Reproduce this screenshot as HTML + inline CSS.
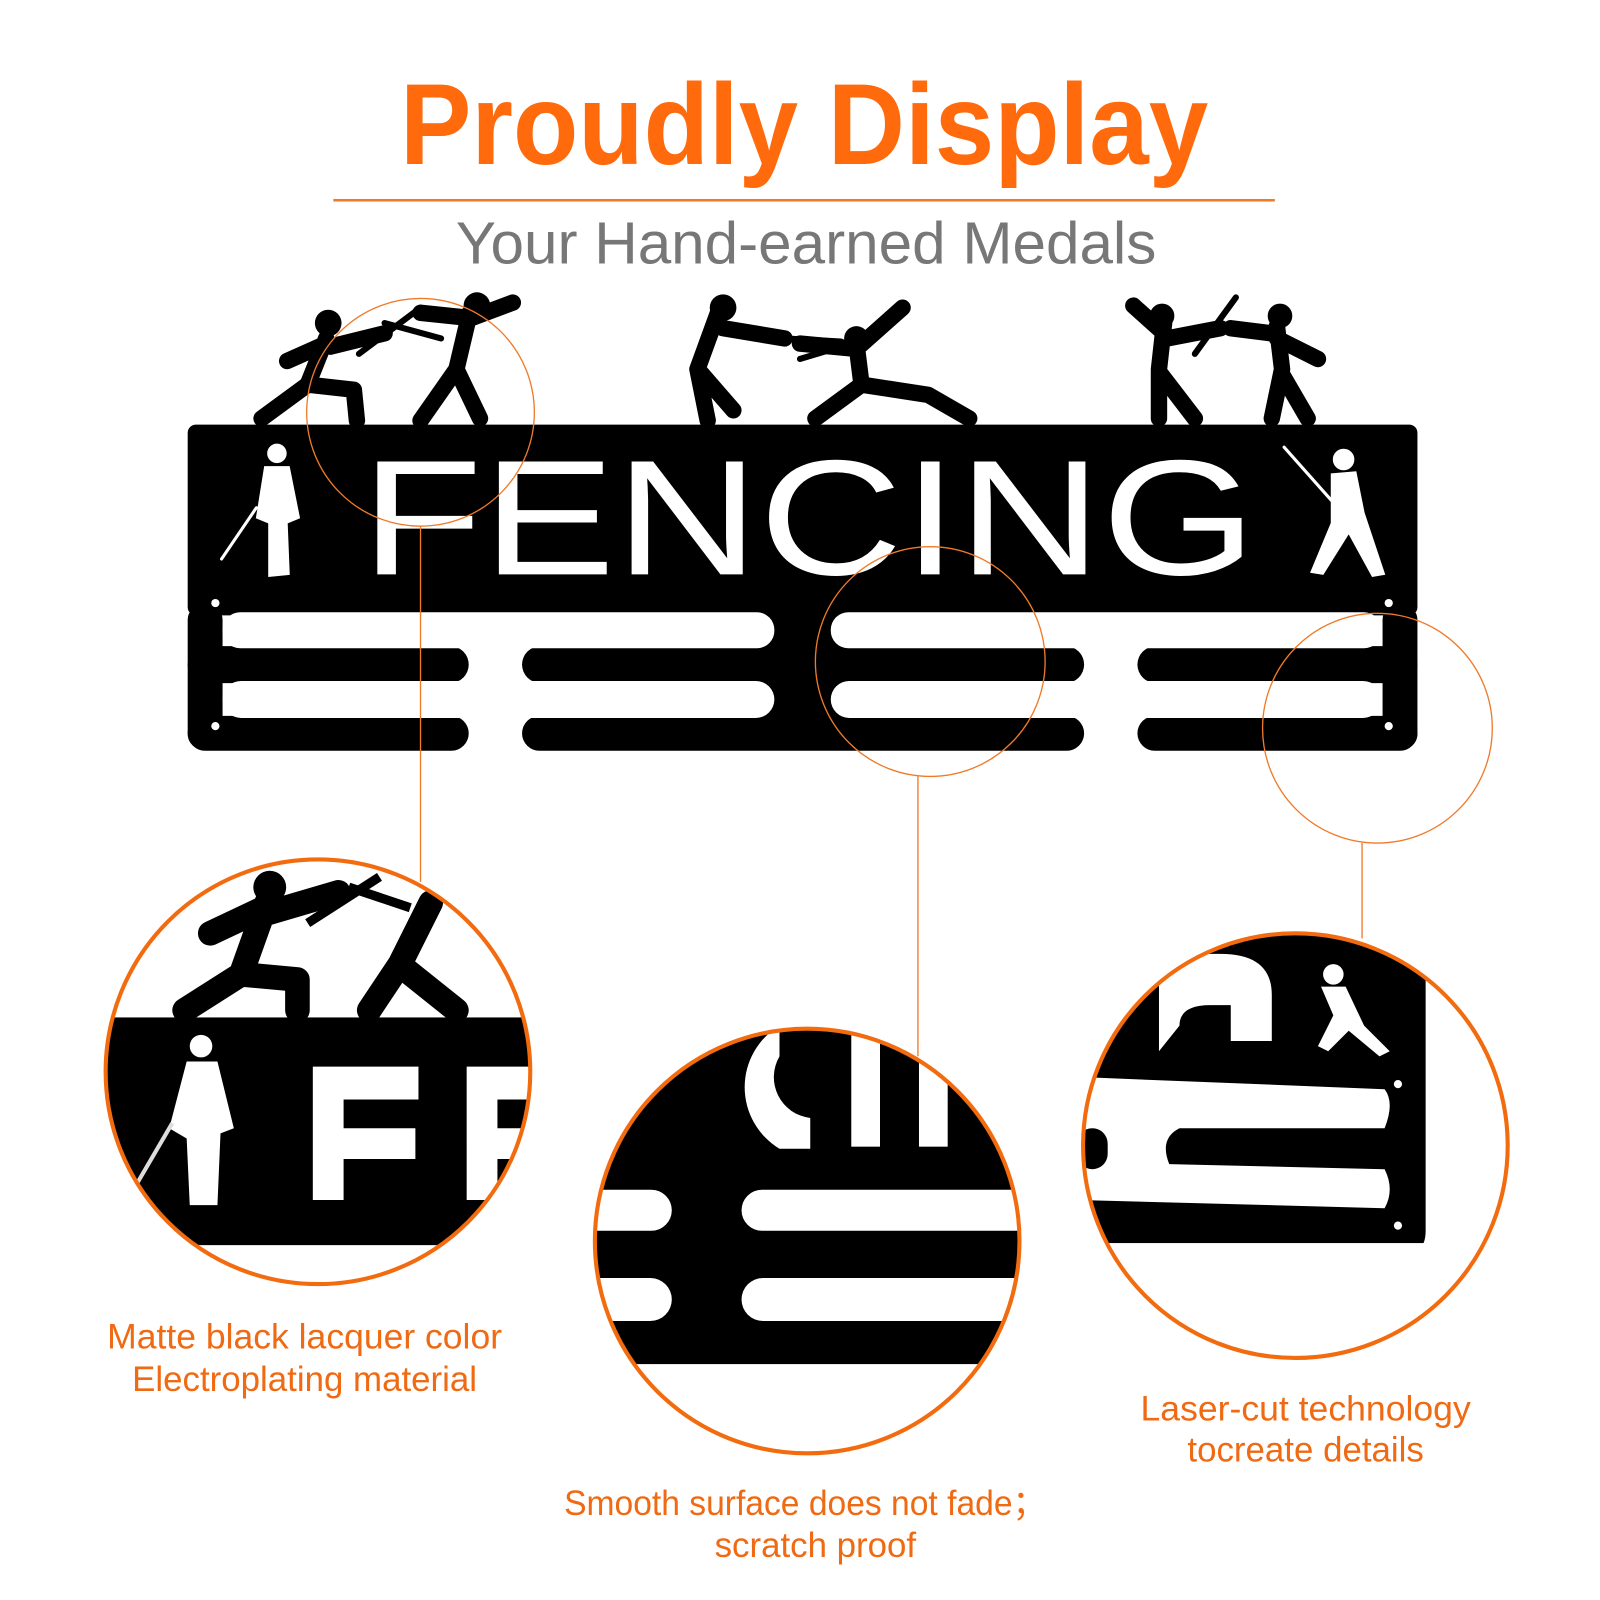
<!DOCTYPE html>
<html><head><meta charset="utf-8"><style>
html,body{margin:0;padding:0;background:#fff;width:1600px;height:1600px;overflow:hidden}
svg{display:block}
</style></head><body>
<svg width="1600" height="1600" viewBox="0 0 1560 1560" xmlns="http://www.w3.org/2000/svg">
<defs>
<clipPath id="c1"><circle cx="310" cy="1045" r="207"/></clipPath>
<clipPath id="c2"><circle cx="787" cy="1210" r="207"/></clipPath>
<clipPath id="c3"><circle cx="1263" cy="1117" r="207"/></clipPath>
</defs>
<rect width="1560" height="1560" fill="#fff"/>
<text x="784" y="160" text-anchor="middle" font-family="Liberation Sans, sans-serif" font-weight="bold" font-size="112" fill="#ff6a0d" textLength="788" lengthAdjust="spacingAndGlyphs">Proudly Display</text>
<rect x="325" y="194" width="918" height="2.5" fill="#f07a2a"/>
<text x="786" y="257" text-anchor="middle" font-family="Liberation Sans, sans-serif" font-size="58" fill="#777" textLength="683" lengthAdjust="spacingAndGlyphs">Your Hand-earned Medals</text>

<g fill="#000">
<rect x="183" y="414" width="1199" height="186" rx="8"/>
<rect x="183" y="590" width="34" height="140" rx="14"/>
<rect x="1348" y="590" width="34" height="140" rx="14"/>
<rect x="183" y="630" width="274" height="36" rx="18"/>
<rect x="509" y="630" width="548" height="36" rx="18"/>
<rect x="1109" y="630" width="273" height="36" rx="18"/>
<rect x="183" y="698" width="274" height="34" rx="17"/>
<rect x="509" y="698" width="548" height="34" rx="17"/>
<rect x="1109" y="698" width="273" height="34" rx="17"/>
<rect x="740" y="590" width="80" height="50"/>
<rect x="740" y="660" width="80" height="45"/>
</g>
<g fill="#fff">
<rect x="217" y="597" width="538" height="35" rx="17"/>
<rect x="810" y="597" width="537" height="35" rx="17"/>
<rect x="217" y="664" width="538" height="36" rx="18"/>
<rect x="810" y="664" width="537" height="36" rx="18"/>
<circle cx="210" cy="588" r="4"/><circle cx="210" cy="708" r="4"/>
<circle cx="1354" cy="588" r="4"/><circle cx="1354" cy="708" r="4"/>
</g>
<text x="352" y="560" font-family="Liberation Sans, sans-serif" font-size="160" fill="#fff" textLength="873" lengthAdjust="spacingAndGlyphs">FENCING</text>
<g fill="#fff" stroke="#fff" stroke-linecap="round">
<circle cx="270" cy="442" r="9"/>
<path d="M258 455 L282 455 L292 505 L280 510 L282 560 L262 562 L262 510 L250 505 Z"/>
<line x1="250" y1="495" x2="216" y2="545" stroke-width="3"/>
<circle cx="1310" cy="448" r="10"/>
<path d="M1298 462 L1322 460 L1330 500 L1350 560 L1338 562 L1315 520 L1290 560 L1278 558 L1298 510 Z"/>
<line x1="1300" y1="490" x2="1252" y2="436" stroke-width="3"/>
</g>
<g fill="none" stroke="#000" stroke-width="16" stroke-linecap="round" stroke-linejoin="round">
<path d="M318 330 L300 375 L255 408 M300 375 L345 380 L348 410 M318 335 L280 352 M322 338 L375 325"/>
<path d="M458 305 L445 360 L410 410 M445 360 L468 408 M458 310 L410 305 M460 310 L500 295"/>
<path d="M700 305 L680 360 L690 410 M682 362 L715 400 M705 320 L765 330"/>
<path d="M835 335 L840 375 L795 408 M840 375 L905 385 L945 408 M835 340 L880 300 M833 340 L780 335"/>
<path d="M1135 315 L1130 360 L1130 408 M1132 365 L1165 408 M1135 325 L1105 298 M1138 330 L1190 320"/>
<path d="M1245 318 L1250 360 L1240 408 M1250 365 L1275 408 M1245 330 L1285 350 M1240 325 L1200 320"/>
</g>
<g stroke="#000" stroke-width="6" stroke-linecap="round">
<line x1="350" y1="345" x2="410" y2="300"/><line x1="375" y1="315" x2="430" y2="330"/>
<line x1="765" y1="330" x2="820" y2="333"/><line x1="780" y1="350" x2="830" y2="335"/>
<line x1="1165" y1="345" x2="1205" y2="290"/>
</g>
<g fill="#000">
<circle cx="320" cy="315" r="13"/><circle cx="465" cy="298" r="13"/><circle cx="705" cy="300" r="13"/>
<circle cx="835" cy="330" r="12"/><circle cx="1133" cy="308" r="12"/><circle cx="1248" cy="308" r="12"/>
</g>

<g fill="none" stroke="#f07a2a" stroke-width="1.3">
<circle cx="410" cy="402" r="111"/>
<circle cx="907" cy="645" r="112"/>
<circle cx="1343" cy="710" r="112"/>
<line x1="410" y1="513" x2="410" y2="860"/>
<line x1="895" y1="757" x2="895" y2="1030"/>
<line x1="1328" y1="822" x2="1328" y2="915"/>
</g>

<g clip-path="url(#c1)">
<rect x="100" y="992" width="420" height="222" fill="#000"/>
<g fill="none" stroke="#000" stroke-width="24" stroke-linecap="round" stroke-linejoin="round">
<path d="M260 880 L235 950 L180 985 M235 950 L290 955 L290 985 M258 885 L205 910 M262 890 L330 870"/>
<path d="M420 880 L390 940 L360 985 M395 945 L445 985"/>
</g>
<circle cx="263" cy="865" r="16"/>
<line x1="300" y1="900" x2="370" y2="855" stroke="#000" stroke-width="9"/>
<line x1="340" y1="865" x2="400" y2="885" stroke="#000" stroke-width="9"/>
<g fill="#fff"><circle cx="196" cy="1020" r="11"/>
<path d="M182 1035 L212 1035 L228 1100 L215 1105 L212 1175 L185 1175 L182 1110 L165 1100 Z"/></g>
<line x1="168" y1="1095" x2="130" y2="1160" stroke="#ddd" stroke-width="4"/>
<path fill="#fff" d="M305 1040 H408 V1072 H335 V1100 H405 V1130 H335 V1170 H305 Z"/>
<path fill="#fff" d="M455 1040 H560 V1072 H485 V1100 H555 V1130 H485 V1170 H455 Z"/>
</g>
<circle cx="310" cy="1045" r="207" fill="none" stroke="#f26b0f" stroke-width="4"/>

<g clip-path="url(#c2)">
<rect x="570" y="1000" width="440" height="330" fill="#000"/>
<g fill="#fff">
<rect x="560" y="1160" width="95" height="40" rx="20"/>
<rect x="723" y="1160" width="300" height="40" rx="20"/>
<rect x="560" y="1246" width="95" height="42" rx="21"/>
<rect x="723" y="1246" width="300" height="42" rx="21"/>
<rect x="560" y="1332" width="460" height="100"/>
<path d="M760 1000 A70 70 0 0 0 760 1120 L790 1120 L790 1090 A40 40 0 0 1 760 1030 Z"/>
<rect x="830" y="1000" width="28" height="118"/>
<rect x="896" y="1000" width="28" height="118"/>
</g>
</g>
<circle cx="787" cy="1210" r="207" fill="none" stroke="#f26b0f" stroke-width="4"/>

<g clip-path="url(#c3)">
<path fill="#000" d="M1050 900 H1390 V1200 Q1390 1225 1365 1222 L1050 1215 Z"/>
<g fill="#fff">
<path d="M1050 1050 L1350 1062 Q1360 1075 1350 1100 L1150 1100 Q1130 1110 1140 1135 L1350 1140 Q1360 1160 1350 1178 L1050 1170 Z"/>
<rect x="1050" y="1212" width="400" height="200"/>
<path d="M1130 930 H1190 Q1240 930 1240 970 L1240 1015 H1200 V980 H1180 Q1150 980 1150 1000 L1130 1025 Z"/>
<circle cx="1300" cy="950" r="10"/>
<path d="M1288 962 L1312 962 L1330 1000 L1355 1025 L1345 1030 L1315 1005 L1295 1025 L1285 1020 L1300 990 Z"/>
<circle cx="1363" cy="1057" r="4"/><circle cx="1363" cy="1195" r="4"/>
</g>
<rect x="1050" y="1100" width="30" height="40" rx="15" fill="#000"/>
<rect x="1050" y="1180" width="30" height="32" rx="15" fill="#000"/>
</g>
<circle cx="1263" cy="1117" r="207" fill="none" stroke="#f26b0f" stroke-width="4"/>

<g font-family="Liberation Sans, sans-serif" font-size="34" fill="#ef6a12" text-anchor="middle">
<text x="297" y="1315" textLength="385" lengthAdjust="spacingAndGlyphs">Matte black lacquer color</text>
<text x="297" y="1356">Electroplating material</text>
<text x="785" y="1477" textLength="470" lengthAdjust="spacingAndGlyphs">Smooth surface does not fade；</text>
<text x="795" y="1518">scratch proof</text>
<text x="1273" y="1385" textLength="322" lengthAdjust="spacingAndGlyphs">Laser-cut technology</text>
<text x="1273" y="1425">tocreate details</text>
</g>
</svg>
</body></html>
